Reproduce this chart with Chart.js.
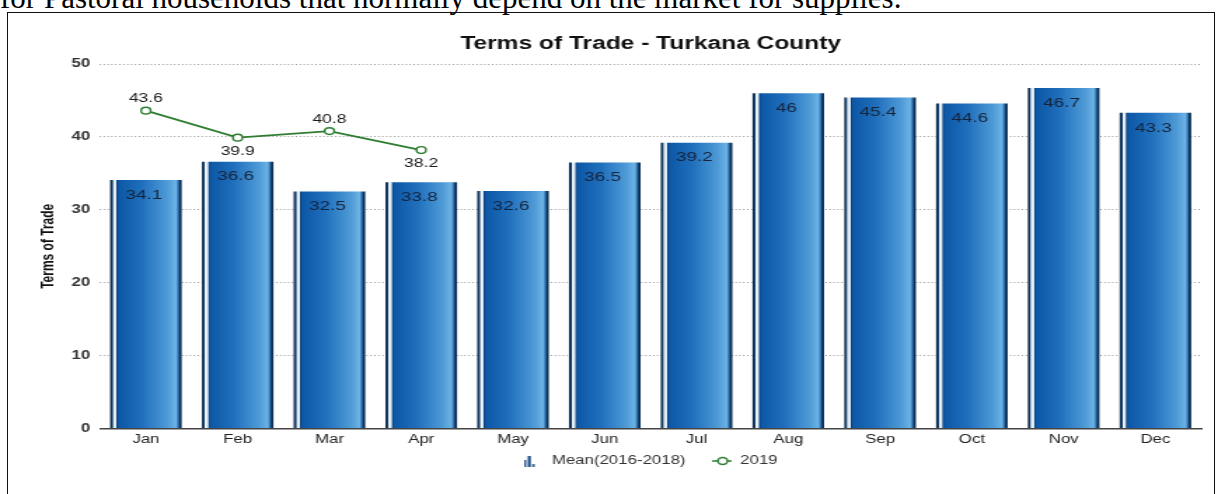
<!DOCTYPE html>
<html>
<head>
<meta charset="utf-8">
<script src="https://cdn.jsdelivr.net/npm/chart.js@4/dist/chart.umd.min.js"></script>
<style>
  html,body{margin:0;padding:0;background:#fff;width:1216px;height:494px;overflow:hidden;}
  #txt{position:absolute;left:0;top:-18px;font-family:"Liberation Serif","Times New Roman",serif;font-size:31px;line-height:31px;color:#000;white-space:nowrap;}
  #box{position:absolute;left:7px;top:12px;width:1208px;height:520px;border:1.5px solid #111;box-sizing:border-box;}
  #wrap{position:absolute;left:0;top:0;width:868.6px;height:494px;transform:scaleX(1.4);transform-origin:0 0;}
</style>
</head>
<body>
<div id="txt">for Pastoral households that normally depend on the market for supplies.</div>
<div id="box"></div>
<div id="wrap"><canvas id="c"></canvas></div>
<script>
const categories = ['Jan','Feb','Mar','Apr','May','Jun','Jul','Aug','Sep','Oct','Nov','Dec'];
const meanValues = [34.1, 36.6, 32.5, 33.8, 32.6, 36.5, 39.2, 46, 45.4, 44.6, 46.7, 43.3];
const values2019 = [43.6, 39.9, 40.8, 38.2];
const seriesNames = ['Mean(2016-2018)', '2019'];
const titleText = 'Terms of Trade - Turkana County';
const yAxisTitle = 'Terms of Trade';
const yTicks = [0, 10, 20, 30, 40, 50];
const BAR_PCT = 0.78;
const FONT = '"Liberation Sans", Arial, sans-serif';
const X_AXIS_TRIM = 15;

function barGradient(ctx){
  const chart = ctx.chart;
  const xs = chart.scales && chart.scales.x;
  if (!chart.chartArea || !xs || !isFinite(xs.width) || xs.width <= 0) return '#1f6fb8';
  const cx = xs.getPixelForValue(ctx.dataIndex);
  const w = (xs.width / categories.length) * BAR_PCT;
  const x0 = cx - w/2, x1 = cx + w/2;
  const g = chart.ctx.createLinearGradient(x0, 0, x1, 0);
  g.addColorStop(0.00, '#0a2747');
  g.addColorStop(0.035, '#16406b');
  g.addColorStop(0.045, '#eef5fb');
  g.addColorStop(0.085, '#dbe9f6');
  g.addColorStop(0.095, '#0b3d75');
  g.addColorStop(0.12, '#0d58a6');
  g.addColorStop(0.45, '#2070bd');
  g.addColorStop(0.80, '#4f9bd7');
  g.addColorStop(0.92, '#6cb2e5');
  g.addColorStop(0.955, '#2a6aa5');
  g.addColorStop(0.975, '#0b2e55');
  g.addColorStop(1.00, '#0b2e55');
  return g;
}

function makeBarIcon(){
  const c = document.createElement('canvas'); c.width = 14; c.height = 12;
  const x = c.getContext('2d'); x.fillStyle = '#1c4e86';
  x.fillRect(0,5,1.6,7); x.fillRect(2.8,1,2.2,11); x.fillRect(6,9,1.6,3);
  return c;
}
function makeLineIcon(){
  const c = document.createElement('canvas'); c.width = 14; c.height = 12;
  const x = c.getContext('2d');
  x.strokeStyle = '#2e7d32'; x.lineWidth = 1.5;
  x.beginPath(); x.moveTo(0,6); x.lineTo(14,6); x.stroke();
  x.fillStyle = '#fff'; x.beginPath(); x.arc(7.5,6,3.4,0,Math.PI*2); x.fill(); x.stroke();
  return c;
}

const valueLabels = {
  id: 'valueLabels',
  afterLayout(chart){
    const s = chart.scales.x;
    s.bottom += X_AXIS_TRIM;
    s.height += X_AXIS_TRIM;
  },
  afterDatasetsDraw(chart){
    const ctx = chart.ctx;
    ctx.save();
    ctx.textAlign = 'center';
    ctx.textBaseline = 'middle';
    ctx.font = '13.5px ' + FONT;
    ctx.fillStyle = '#15233a';
    const m0 = chart.getDatasetMeta(0);
    m0.data.forEach((el, i) => {
      ctx.fillText(String(meanValues[i]), el.x - 1.5, el.y + 15);
    });
    ctx.font = '12.5px ' + FONT;
    ctx.fillStyle = '#1a1a1a';
    const m1 = chart.getDatasetMeta(1);
    m1.data.forEach((el, i) => {
      const v = values2019[i];
      const prev = i > 0 ? values2019[i-1] : -Infinity;
      const next = i < values2019.length-1 ? values2019[i+1] : -Infinity;
      const above = v >= prev && v >= next;
      ctx.fillText(String(v), el.x, above ? el.y - 12 : el.y + 14);
    });
    ctx.restore();
  }
};

new Chart(document.getElementById('c'), {
  type: 'bar',
  data: {
    labels: categories,
    datasets: [
      {
        type: 'bar',
        label: seriesNames[0],
        data: meanValues,
        backgroundColor: barGradient,
        borderWidth: 0,
        barPercentage: BAR_PCT,
        categoryPercentage: 1.0,
        order: 2
      },
      {
        type: 'line',
        label: seriesNames[1],
        data: values2019,
        borderColor: '#2e7d32',
        borderWidth: 1.8,
        pointRadius: 3.4,
        pointBorderWidth: 1.4,
        pointBackgroundColor: '#ffffff',
        pointBorderColor: '#2e7d32',
        tension: 0,
        order: 1
      }
    ]
  },
  options: {
    responsive: true,
    maintainAspectRatio: false,
    animation: false,
    layout: { padding: { left: 27.3, right: 11.5, top: 32, bottom: 17 } },
    plugins: {
      title: {
        display: true, text: titleText, color: '#111', fullSize: false,
        font: { family: FONT, size: 17.5, weight: 'bold' },
        padding: { top: 2, bottom: 9 }
      },
      legend: {
        position: 'bottom',
        fullSize: false,
        labels: {
          color: '#333',
          font: { family: FONT, size: 12 },
          usePointStyle: true,
          pointStyleWidth: 14,
          padding: 19,
          generateLabels(chart){
            return [
              { text: seriesNames[0], pointStyle: makeBarIcon(), fontColor: '#333', datasetIndex: 0, lineWidth: 0, strokeStyle: 'transparent', fillStyle: 'transparent' },
              { text: seriesNames[1], pointStyle: makeLineIcon(), fontColor: '#333', datasetIndex: 1, lineWidth: 0, strokeStyle: 'transparent', fillStyle: 'transparent' }
            ];
          }
        }
      },
      tooltip: { enabled: false }
    },
    scales: {
      x: {
        grid: { display: false, drawTicks: false },
        border: { display: true, color: '#444', width: 1.5 },
        ticks: { color: '#222', padding: 4, font: { family: FONT, size: 12 } },
        afterFit(scale){ scale.height = scale.height - X_AXIS_TRIM; }
      },
      y: {
        min: 0, max: 50,
        afterBuildTicks(axis){ axis.ticks = yTicks.map(v => ({ value: v })); },
        grid: { color: '#9a9a9a', lineWidth: 1, drawTicks: false },
        border: { display: false, dash: [1, 1.8] },
        ticks: { color: '#333', padding: 7, font: { family: FONT, size: 12, weight: 'bold' } },
        title: {
          display: true, text: yAxisTitle, color: '#111',
          font: { family: FONT, size: 12, weight: 'bold' },
          padding: { top: 0, bottom: 2.3 }
        }
      }
    }
  },
  plugins: [valueLabels]
});
</script>
</body>
</html>
